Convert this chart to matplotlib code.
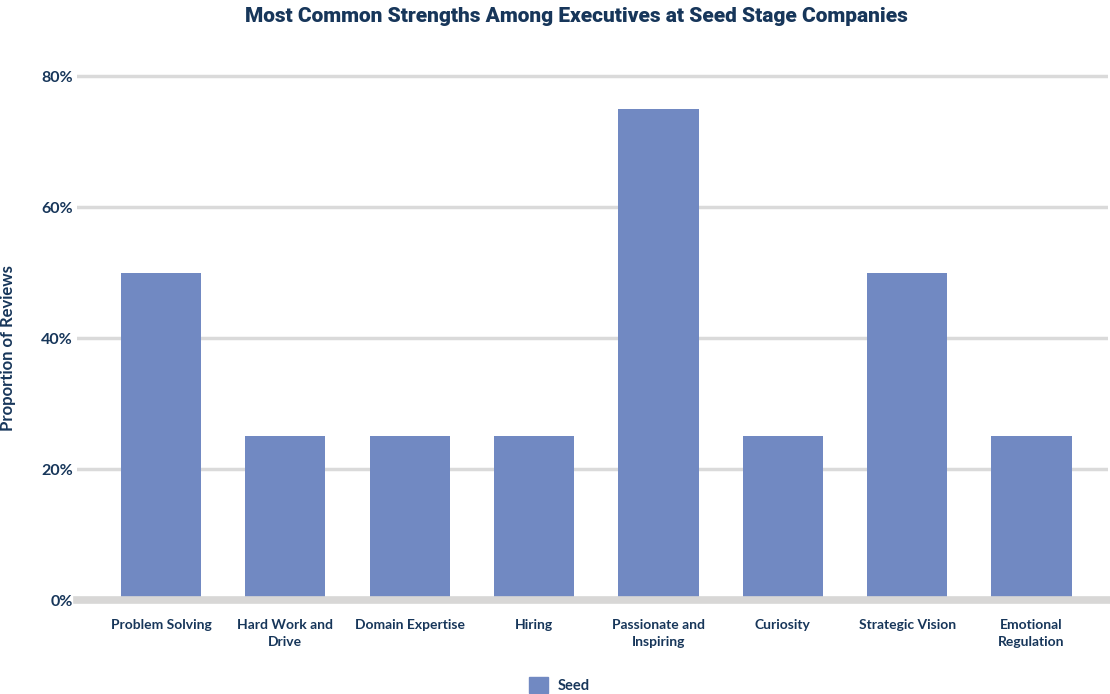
import numpy as np
import matplotlib.pyplot as plt
from matplotlib.patches import Patch

plt.rcParams["font.family"] = ["Lato", "DejaVu Sans"]

strengths = ["Problem Solving", "Hard Work and\nDrive", "Domain Expertise", "Hiring",
             "Passionate and\nInspiring", "Curiosity", "Strategic Vision", "Emotional\nRegulation"]
seed = [50, 25, 25, 25, 75, 25, 50, 25]
yticks = [0, 20, 40, 60, 80]

navy = "#17365a"
bar_color = "#7189c2"
grid_color = "#dadada"

fig = plt.figure(figsize=(11.1, 6.94), dpi=100)
ax = fig.add_axes([77 / 1110, 94 / 694, 1031 / 1110, 530.5 / 694])

x = np.arange(len(strengths))
ax.bar(x, seed, width=0.645, color=bar_color, zorder=2)

ax.set_xlim(-0.675, 7.615)
ax.set_ylim(0, 81)
for v in yticks[1:]:
    ax.axhline(v, color=grid_color, lw=2.5, zorder=1)
ax.axhline(0, color="#d8d7d6", lw=5.5, zorder=3, clip_on=False)

ax.set_yticks(yticks)
ax.set_yticklabels([f"{v}%" for v in yticks], color=navy, fontsize=11.5, fontweight="bold")
ax.set_xticks(x)
ax.set_xticklabels(strengths, color=navy, fontsize=10, fontweight="bold", linespacing=1.45)
ax.tick_params(length=0)
ax.tick_params(axis="x", pad=14)
ax.tick_params(axis="y", pad=3)
for s in ax.spines.values():
    s.set_visible(False)

ax.set_ylabel("Proportion of Reviews", color=navy, fontsize=12, fontweight="bold")
ax.yaxis.set_label_coords(-0.059, 0.474)
fig.suptitle("Most Common Strengths Among Executives at Seed Stage Companies",
             color=navy, fontsize=15, fontweight="heavy", x=0.519, y=0.99,
             family=["Roboto", "DejaVu Sans"])

fig.legend(handles=[Patch(color=bar_color, label="Seed")], loc="center",
           bbox_to_anchor=(0.504, 0.013), frameon=False, borderpad=0,
           handlelength=1.3, handleheight=1.3, handletextpad=0.7, labelcolor=navy,
           prop={"weight": "bold", "size": 10.5})

fig.savefig("out.png")
